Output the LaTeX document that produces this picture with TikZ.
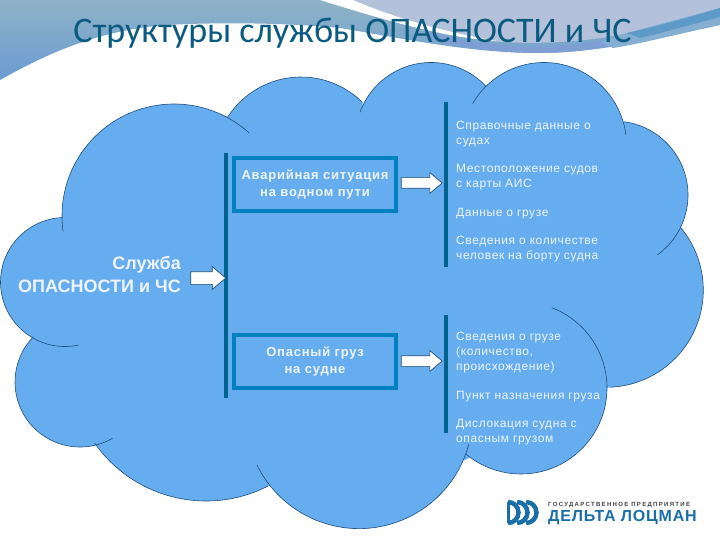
\documentclass[tikz,border=0pt]{standalone}
\usepackage{fontspec}
\setmainfont{Liberation Sans}
\newfontfamily\titlefont{Carlito}
\newfontfamily\infofont[LetterSpace=5]{Liberation Sans}
\newfontfamily\boxfont[LetterSpace=6]{Liberation Sans}
\newfontfamily\logofont[LetterSpace=22]{Liberation Sans}
\newfontfamily\logonamefont[LetterSpace=5]{Liberation Sans}
\usetikzlibrary{shapes.arrows}
\definecolor{cloudblue}{HTML}{66ADF0}
\definecolor{cloudedge}{HTML}{1F4E79}
\definecolor{barblue}{HTML}{00628F}
\definecolor{boxblue}{HTML}{0080BF}
\definecolor{titleblue}{HTML}{0B5A80}
\definecolor{softwhite}{HTML}{EDF4FB}
\definecolor{logoblue}{HTML}{1A6FA8}
\definecolor{headtop}{HTML}{8FB3C6}
\definecolor{headlow}{HTML}{6A9BD2}
\definecolor{headlav}{HTML}{B3C1DA}
\definecolor{headband}{HTML}{7F9ED3}
\definecolor{headlight}{HTML}{84AED2}
\definecolor{headdark}{HTML}{5D9AC8}
\tikzset{
    cloudline/.style={draw=cloudedge, line width=0.6pt},
    barline/.style={barblue, line width=4.2pt},
    problembox/.style={draw=boxblue, line width=4pt, minimum width=162pt, minimum height=53pt,
        inner sep=0pt, align=center, text=softwhite, font=\boxfont\bfseries\fontsize{13}{16.5}\selectfont},
    infotext/.style={anchor=west, inner sep=0pt, align=left, text=softwhite,
        font=\infofont\fontsize{12}{15}\selectfont},
    blockarrow/.style={single arrow, draw=cloudedge, fill=white, line width=0.7pt, inner xsep=0pt, inner ysep=5pt,
        single arrow head extend=5pt, single arrow tip angle=80},
}
\begin{document}
\begin{tikzpicture}[x=1pt,y=1pt,yscale=-1]
    \useasboundingbox (0,0) rectangle (720,540);

    % header swoosh
    \shade[top color=headtop, bottom color=headlow]
        (0,0) -- (720,0) -- (720,25) .. controls (660,38) and (600,53) .. (537,53)
        .. controls (470,53) and (400,38) .. (340,28) .. controls (290,23) and (220,22) .. (167,25)
        .. controls (100,30) and (50,52) .. (0,80) -- cycle;
    \fill[headlav] (353,0) -- (720,0) -- (720,8) .. controls (680,20) and (655,27) .. (627,33)
        .. controls (590,42) and (530,46) .. (480,40) .. controls (450,32) and (400,20) .. (353,0) -- cycle;
    \fill[white] (320,0) -- (353,0) .. controls (400,20) and (450,33) .. (497,41)
        .. controls (450,38) and (400,25) .. (320,0) -- cycle;
    \fill[headband] (430,32) .. controls (470,44) and (510,47) .. (540,47) .. controls (570,46) and (600,42) .. (627,35)
        -- (640,38) .. controls (600,50) and (570,53) .. (537,53) .. controls (500,53) and (460,46) .. (430,40) -- cycle;
    \fill[headlight] (627,33) -- (720,8) -- (720,25) .. controls (680,33) and (650,42) .. (613,48) -- (600,42) -- cycle;
    \fill[headdark] (627,33) .. controls (655,27) and (680,20) .. (720,8) -- (720,17)
        .. controls (690,25) and (665,32) .. (640,38) -- cycle;

    \node[font=\titlefont\fontsize{36}{40}\selectfont, text=titleblue, inner sep=0pt, anchor=base] (title) at (352.5,43)
        {Структуры службы ОПАСНОСТИ и ЧС};

    % cloud
    \fill[cloudblue] (228,116) -- (360,105) -- (486,87) -- (624,122) -- (681,228) -- (609,387)
        -- (465,460) -- (268,486) -- (96,445) -- (33,337) -- (63,218) -- cycle;
    \def\lobes{174/216/112/172/312, 301/164/87/213/315, 431/138/75.5/200/317, 544/145/82.5/210/353,
        614/195/74/-82/54, 606/290/97.3/-40/88, 521/388/86/-69/130, 359/415/113.6/15/154,
        206/365/136/63/145, 80/382/65/60/224, 65/282/64.5/78/268}
    \foreach \cx/\cy/\r/\a/\b in \lobes {
        \fill[cloudblue] (\cx,\cy) ++(\a:\r) arc[start angle=\a, end angle=\b, radius=\r] -- (350,290) -- cycle;
    }
    \foreach \cx/\cy/\r/\a/\b in \lobes {
        \draw[cloudline] (\cx,\cy) ++(\a:\r) arc[start angle=\a, end angle=\b, radius=\r];
    }

    % bars
    \draw[barline] (226,153) -- (226,398);
    \draw[barline] (446,102) -- (446,267);
    \draw[barline] (446,315) -- (446,433);

    % boxes
    \node[problembox] (accident) at (315,184.5) {\strut Аварийная ситуация\\на водном пути\strut};
    \node[problembox] (cargo) at (315,361.5) {\strut Опасный груз\\на судне\strut};

    % arrows
    \node[blockarrow, minimum height=41pt] (accidentarrow) at (418.5,183) {};
    \node[blockarrow, minimum height=41pt] (cargoarrow) at (418.5,361) {};
    \node[blockarrow, minimum height=35pt, inner ysep=6pt] (servicearrow) at (204.5,278) {};

    % service label
    \node[anchor=east, inner sep=0pt, align=right, text=softwhite, font=\bfseries\fontsize{18}{23}\selectfont] (service) at (181,274.5)
        {Служба\\ОПАСНОСТИ и ЧС};

    % right column
    \node[infotext] (refdata) at (456,134.5) {Справочные данные о\\судах};
    \node[infotext] (position) at (456,177.5) {Местоположение судов\\с карты АИС};
    \node[infotext] (cargodata) at (456,214) {Данные о грузе};
    \node[infotext] (people) at (456,249.5) {Сведения о количестве\\человек на борту судна};
    \node[infotext] (cargoinfo) at (456,353) {Сведения о грузе\\(количество,\\происхождение)};
    \node[infotext] (destination) at (456,397) {Пункт назначения груза};
    \node[infotext] (location) at (456,432.5) {Дислокация судна с\\опасным грузом};

    % logo
    \foreach \x in {2,11,20} {
        \draw[logoblue, line width=4.5pt] (506+\x,502) arc[start angle=-90, end angle=90, radius=10.5];
    }
    \draw[logoblue, line width=3pt] (508,502) -- (508,523);
    \node[anchor=west, inner sep=0pt, text=black!75, font=\logofont\bfseries\fontsize{6}{7}\selectfont] (logotop) at (548,504.5)
        {ГОСУДАРСТВЕННОЕ ПРЕДПРИЯТИЕ};
    \node[anchor=west, inner sep=0pt, text=logoblue, font=\logonamefont\bfseries\fontsize{16}{18}\selectfont] (logoname) at (548,518)
        {ДЕЛЬТА ЛОЦМАН};
\end{tikzpicture}
\end{document}
